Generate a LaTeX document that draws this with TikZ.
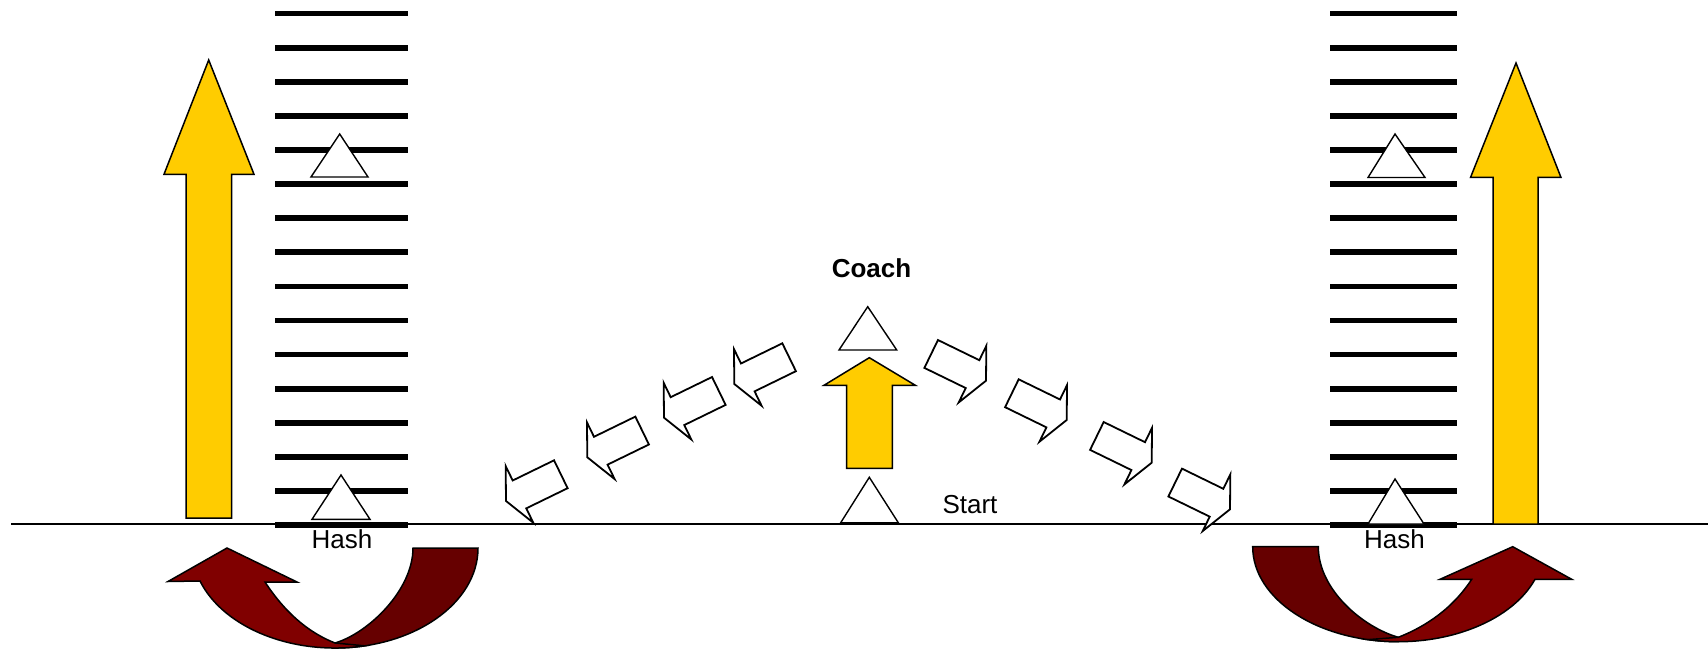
\documentclass[tikz,border=0pt]{standalone}
\usepackage{fontspec}
\setmainfont{Liberation Sans}
\definecolor{arrowgold}{HTML}{FFCC00}
\definecolor{turnfront}{HTML}{800000}
\definecolor{turnback}{HTML}{660000}
\begin{document}
\begin{tikzpicture}[x=1pt,y=1pt,
  hashbar/.style={line width=5.7pt},
  ground/.style={line width=2pt},
  player/.style={draw=black,fill=white,line width=1.4pt,line join=miter},
  gold/.style={draw=black,fill=arrowgold,line width=1.5pt,line join=miter},
  turnf/.style={draw=black,fill=turnfront,line width=1.5pt,line join=miter},
  turnb/.style={draw=black,fill=turnback,line width=1.5pt,line join=miter},
  smallarrow/.style={draw=black,fill=white,line width=1.8pt,line join=miter},
  lbl/.style={inner sep=0pt,anchor=base,font=\fontsize{26}{30}\selectfont},
  pics/runleft/.style={code={
    \draw[smallarrow] (0,0) -- (15,31.5) -- (15,15.5) -- (61,15.5)
      -- (61,-15.5) -- (15,-15.5) -- (15,-31.5) -- cycle;}},
  pics/runright/.style={code={
    \draw[smallarrow] (0,0) -- (-15,31.5) -- (-15,15.5) -- (-61,15.5)
      -- (-61,-15.5) -- (-15,-15.5) -- (-15,-31.5) -- cycle;}}
]
\useasboundingbox (0,0) rectangle (1708,-652);

% yard lines on both hashes
\foreach \k in {0,...,15} {
  \draw[hashbar] (275,{-13.6-34.1*\k}) -- (408,{-13.6-34.1*\k});
  \draw[hashbar] (1330,{-13.6-34.1*\k}) -- (1457,{-13.6-34.1*\k});
}

% start line
\draw[ground] (11,-524) -- (1708,-524);

% long runs up the sideline
\draw[gold] (208.7,-60) -- (254,-174.3) -- (231.7,-174.3) -- (231.7,-518)
  -- (186,-518) -- (186,-174.3) -- (164,-174.3) -- cycle;
\draw[gold] (1516,-63) -- (1561,-177.5) -- (1538,-177.5) -- (1538,-524)
  -- (1493,-524) -- (1493,-177.5) -- (1470.5,-177.5) -- cycle;
% run toward the coach
\draw[gold] (869.3,-357.7) -- (915.3,-385.3) -- (892.3,-385.3) -- (892.3,-468.3)
  -- (846.7,-468.3) -- (846.7,-385.3) -- (824,-385.3) -- cycle;

% players
\draw[player] (339.7,-134) -- (368,-177) -- (311,-177) -- cycle;
\draw[player] (341,-475) -- (370,-519.3) -- (312,-519.3) -- cycle;
\draw[player] (1395,-134) -- (1425,-177.5) -- (1368,-177.5) -- cycle;
\draw[player] (1395,-479) -- (1424,-524) -- (1368,-524) -- cycle;
\draw[player] (867.7,-306.7) -- (896.7,-350) -- (839,-350) -- cycle;
\draw[player] (869.3,-477.3) -- (898.3,-522.7) -- (840.7,-522.7) -- cycle;

% jog back to the left
\pic[rotate=26] at (506,-501) {runleft};
\pic[rotate=26] at (587.3,-457.3) {runleft};
\pic[rotate=26] at (664,-417.7) {runleft};
\pic[rotate=26] at (734.3,-384) {runleft};
% jog back to the right
\pic[rotate=-26] at (986,-380.7) {runright};
\pic[rotate=-26] at (1066.7,-420) {runright};
\pic[rotate=-26] at (1151.7,-462.7) {runright};
\pic[rotate=-26] at (1230,-509.3) {runright};

% turn-around at the left hash
\draw[turnb] (478,-548) arc[start angle=0,end angle=-90,x radius=143,y radius=100]
  -- (335,-643) .. controls (368.6,-633) and (413,-590) .. (413,-548) -- cycle;
\draw[turnf] (227,-548) -- (168,-581.5) -- (200,-581)
  arc[start angle=199.26,end angle=282,x radius=143,y radius=100]
  -- (335,-643) .. controls (307,-632) and (284,-611) .. (265,-582)
  -- (297,-582) -- cycle;

% turn-around at the right hash
\draw[turnb] (1252.7,-546.7) arc[start angle=180,end angle=270,x radius=145.6,y radius=95]
  -- (1398.3,-637.3) .. controls (1363.3,-627.3) and (1318.3,-590) .. (1318.3,-546.7) -- cycle;
\draw[turnf] (1512.7,-546.7) -- (1571.7,-579.3) -- (1535,-579.3)
  arc[start angle=-20.07,end angle=-102,x radius=145.6,y radius=95]
  -- (1398.3,-637.3) .. controls (1426.3,-626.3) and (1452.7,-608.3) .. (1471.7,-579.3)
  -- (1440,-579.3) -- cycle;

% labels
\node[lbl] (coach) at (871.5,-277.3) {\bfseries Coach};
\node[lbl] (start) at (970,-513) {Start};
\node[lbl] (hashL) at (342,-548) {Hash};
\node[lbl] (hashR) at (1394.5,-548) {Hash};
\end{tikzpicture}
\end{document}
